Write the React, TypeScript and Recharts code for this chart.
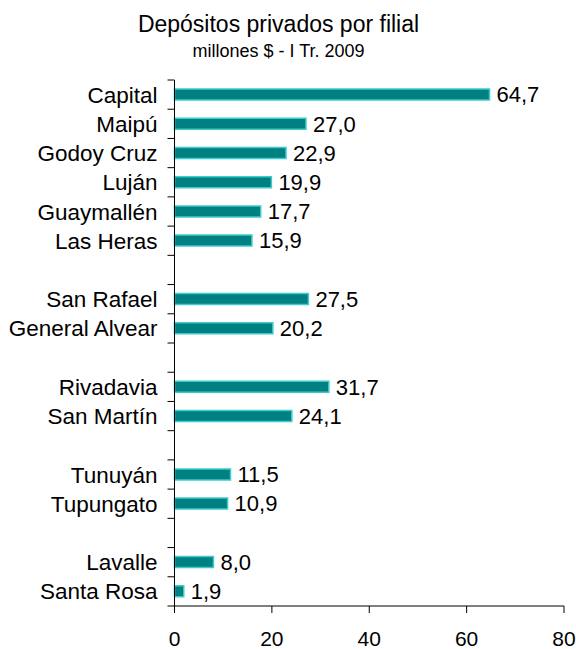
import React from 'react';
import { BarChart, Bar, XAxis, YAxis, LabelList } from 'recharts';

const branches = [
  'Capital', 'Maipú', 'Godoy Cruz', 'Luján', 'Guaymallén', 'Las Heras', '',
  'San Rafael', 'General Alvear', '',
  'Rivadavia', 'San Martín', '',
  'Tunuyán', 'Tupungato', '',
  'Lavalle', 'Santa Rosa',
];
const deposits: Array<number | null> = [
  64.7, 27.0, 22.9, 19.9, 17.7, 15.9, null,
  27.5, 20.2, null,
  31.7, 24.1, null,
  11.5, 10.9, null,
  8.0, 1.9,
];
const xTicks = [0, 20, 40, 60, 80];

const rows = branches.map((name, i) => ({
  key: name || `gap${i}`,
  name,
  value: deposits[i],
}));

const FONT = '"Liberation Sans", Arial, sans-serif';

const BranchTick = (props: any) => {
  const { x, y, payload, index, visibleTicksCount } = props;
  const half = payload?.offset ?? 14.6;
  const row = rows.find((r) => r.key === payload.value);
  const isLast = index === (visibleTicksCount ?? rows.length) - 1;
  return (
    <g>
      <line x1={x - 7} x2={x} y1={y - half} y2={y - half} stroke="#000" />
      {isLast && <line x1={x - 7} x2={x} y1={y + half} y2={y + half} stroke="#000" />}
      <text x={x - 17} y={y} dy="0.36em" textAnchor="end" fontSize={22.5} fill="#000" fontFamily={FONT}>
        {row ? row.name : ''}
      </text>
    </g>
  );
};

const fmt = (v: any) => (v === null || v === undefined ? '' : Number(v).toFixed(1).replace('.', ','));

export default function App() {
  return (
    <div style={{ position: 'absolute', left: 0, top: 0, width: 576, height: 649, background: '#fff', fontFamily: FONT }}>
      <svg width={576} height={70} style={{ position: 'absolute', left: 0, top: 0 }}>
        <text x={278.5} y={32} textAnchor="middle" fontSize={23} fill="#000" fontFamily={FONT}>
          Depósitos privados por filial
        </text>
        <text x={278.5} y={57} textAnchor="middle" fontSize={18} fill="#000" fontFamily={FONT}>
          millones $ - I Tr. 2009
        </text>
      </svg>
      <div style={{ position: 'absolute', left: 0, top: 0 }}>
        <BarChart
          width={576}
          height={649}
          data={rows}
          layout="vertical"
          margin={{ top: 80, right: 12, bottom: 3, left: 0 }}
          barCategoryGap={0}
        >
          <XAxis
            type="number"
            domain={[0, 80]}
            ticks={xTicks}
            tickSize={7}
            tickMargin={18}
            height={40}
            stroke="#000"
            tick={{ fill: '#000', fontSize: 21, fontFamily: FONT }}
            interval={0}
          />
          <YAxis
            type="category"
            dataKey="key"
            width={174.5}
            stroke="#000"
            tickLine={false}
            tickSize={0}
            tickMargin={0}
            interval={0}
            tick={<BranchTick />}
          />
          <Bar dataKey="value" fill="#008080" stroke="#3ccaca" strokeWidth={1.5} barSize={11} isAnimationActive={false}>
            <LabelList
              dataKey="value"
              position="right"
              offset={7}
              formatter={fmt}
              style={{ fill: '#000', fontSize: 22, fontFamily: FONT }}
            />
          </Bar>
        </BarChart>
      </div>
    </div>
  );
}
